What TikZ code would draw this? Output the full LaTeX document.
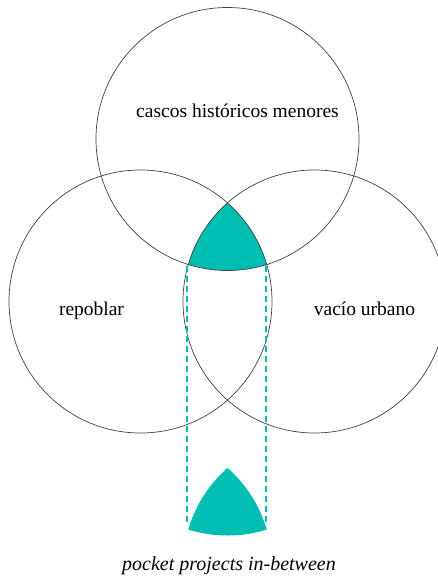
\documentclass[tikz,border=0pt]{standalone}
\usepackage{fontspec}
\setmainfont{Liberation Serif}
\definecolor{tealfill}{RGB}{0,191,178}
\begin{document}
\begin{tikzpicture}[x=1pt,y=-1pt,
  ring/.style={circle,draw=black!75,line width=0.7pt,minimum size=263pt,inner sep=0pt},
  lbl/.style={font=\fontsize{19.5}{22}\selectfont,anchor=base,inner sep=0pt},
  cap2/.style={font=\fontsize{20}{23}\selectfont\itshape,anchor=base,inner sep=0pt},
  guide/.style={draw=tealfill,line width=1.7pt,dash pattern=on 6pt off 4pt}]
\useasboundingbox (0,0) rectangle (438,581);
\clip (0,0) rectangle (438,581);
\coordinate (T) at (227.5,139);
\coordinate (L) at (140.5,301.5);
\coordinate (R) at (314.5,301.5);
\coordinate (T2) at (227.5,404);
\coordinate (L2) at (140.5,566.5);
\coordinate (R2) at (314.5,566.5);
% upper triple intersection
\begin{scope}
  \clip (L) circle[radius=131.5pt];
  \clip (R) circle[radius=131.5pt];
  \fill[tealfill] (T) circle[radius=131.5pt];
\end{scope}
% lower projected shape
\begin{scope}
  \clip (L2) circle[radius=131.5pt];
  \clip (R2) circle[radius=131.5pt];
  \fill[tealfill] (T2) circle[radius=131.5pt];
\end{scope}
% circles
\node[ring] (top) at (T) {};
\node[ring] (left) at (L) {};
\node[ring] (right) at (R) {};
% guides
\coordinate (g1a) at (187,266);
\coordinate (g1b) at (187,526);
\coordinate (g2a) at (266,266);
\coordinate (g2b) at (266,526);
\draw[guide] (g1a) -- (g1b);
\draw[guide] (g2a) -- (g2b);
% labels
\node[lbl] (ta) at (237.5,117) {cascos históricos menores};
\node[lbl] (la) at (91.5,315) {repoblar};
\node[lbl] (ra) at (364.5,315) {vacío urbano};
\node[cap2] (ca) at (229,570) {pocket projects in-between};
\end{tikzpicture}
\end{document}
